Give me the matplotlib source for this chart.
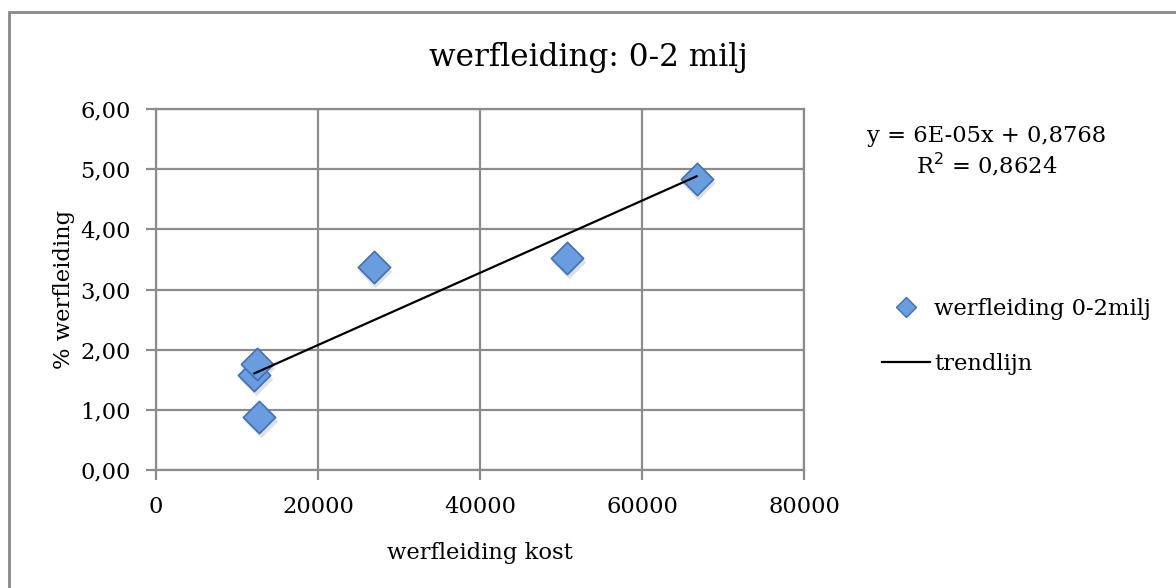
import numpy as np
import matplotlib.pyplot as plt
from matplotlib.lines import Line2D
from matplotlib.patches import Rectangle
import matplotlib.transforms as mtransforms

# kosten en percentage werfleiding per project
kost = [12140, 12430, 12760, 26870, 50780, 66750]
perc = [1.58, 1.77, 0.88, 3.38, 3.53, 4.83]

# trendlijn zoals door Excel weergegeven
helling = 6e-05
snijpunt = 0.8768
r_kwadraat = 0.8624

x_ticks = [0, 20000, 40000, 60000, 80000]
y_ticks = [0, 1, 2, 3, 4, 5, 6]

plt.rcParams['font.family'] = ['DejaVu Serif']
fs = 16.3

fig = plt.figure(figsize=(11.76, 5.88), dpi=100)
ax = fig.add_axes([156 / 1176, 1 - 470 / 588, 648 / 1176, 361 / 588])

# rand rond de grafiek
fig.patches.append(Rectangle((9 / 1176, -0.1), 1.2, 1 - 12 / 588 + 0.1,
                             transform=fig.transFigure, fill=False,
                             edgecolor='#8a8a8a', linewidth=2))

grijs = '#8c8c8c'
ax.set_xlim(0, 80000)
ax.set_ylim(0, 6)
ax.set_xticks(x_ticks)
ax.set_yticks(y_ticks)
ax.set_xticklabels([str(t) for t in x_ticks])
ax.set_yticklabels(['{:.2f}'.format(t).replace('.', ',') for t in y_ticks])
ax.grid(True, color=grijs, linewidth=1.6)
ax.set_axisbelow(True)
for s in ax.spines.values():
    s.set_color(grijs)
    s.set_linewidth(1.6)
ax.tick_params(axis='both', colors=grijs, width=1.6, length=7,
               labelcolor='black', labelsize=fs)
ax.tick_params(axis='x', pad=12)
ax.tick_params(axis='y', pad=11)

xs = np.array([min(kost), max(kost)])

# schaduw onder de punten
schaduw = mtransforms.offset_copy(ax.transData, fig=fig, x=1.5, y=-4, units='dots')
ax.scatter(kost, perc, marker='D', s=290, color='#000000', alpha=0.12,
           linewidths=0, transform=schaduw, zorder=3)
ax.scatter(kost, perc, marker='D', s=270, color='#6a9ce0', edgecolors='#3f71b8',
           linewidths=1.2, zorder=3)

# trendlijn
ax.plot(xs, helling * xs + snijpunt, color='black', linewidth=1.6, zorder=5)

ax.set_xlabel('werfleiding kost', fontsize=fs, labelpad=17)
ax.set_ylabel('% werfleiding', fontsize=fs, labelpad=4)

fig.text(0.5, 1 - 66 / 588, 'werfleiding: 0-2 milj', ha='center',
         va='baseline', fontsize=22.4)

fig.text(987 / 1176, 1 - 136 / 588, 'y = 6E-05x + 0,8768', ha='center',
         va='center', fontsize=fs)
fig.text(987 / 1176, 1 - 165 / 588, 'R$^2$ = 0,8624', ha='center',
         va='center', fontsize=fs)

handles = [Line2D([], [], marker='D', linestyle='none', markersize=10,
                  markerfacecolor='#6a9ce0', markeredgecolor='#3f71b8'),
           Line2D([], [], color='black', linewidth=1.6)]
fig.legend(handles, ['werfleiding 0-2milj', 'trendlijn'],
           loc='upper left', bbox_to_anchor=(882 / 1176, 1 - 298 / 588),
           frameon=False, fontsize=fs, handlelength=2.1, handletextpad=0.2,
           labelspacing=1.45, borderaxespad=0, borderpad=0)

fig.savefig('out.png', dpi=100)
